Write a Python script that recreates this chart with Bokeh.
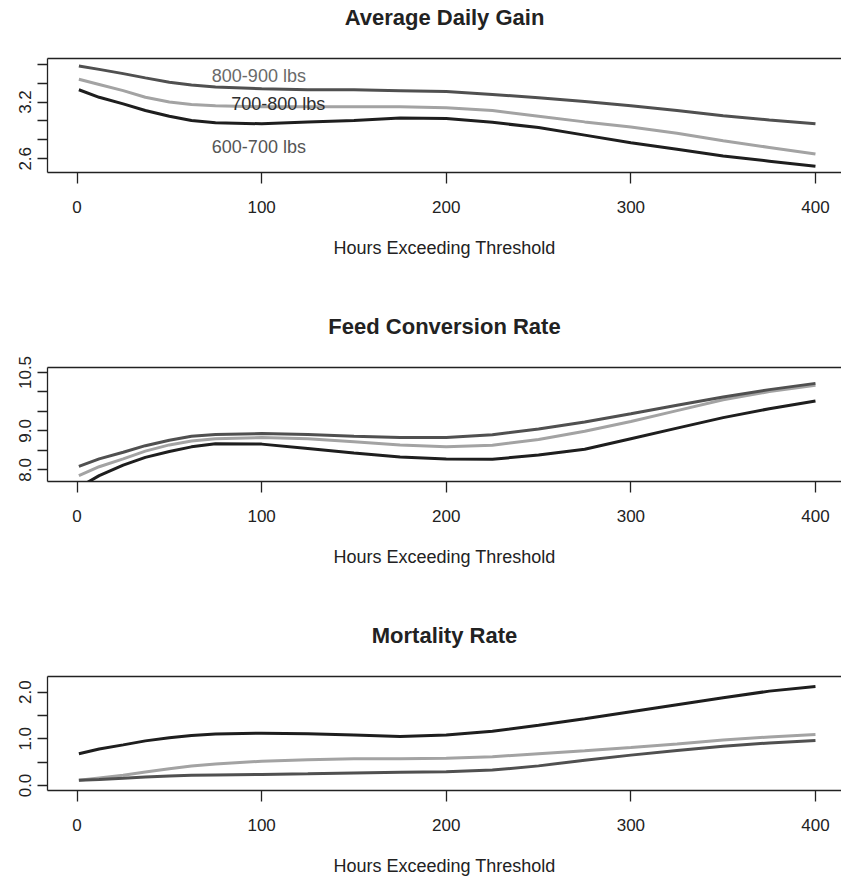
from bokeh.plotting import figure
from bokeh.layouts import column
from bokeh.models import FixedTicker, Range1d, LinearAxis
from bokeh.core.properties import value
from bokeh.embed import file_html
from bokeh.resources import INLINE

# ---------------- data ----------------
hours = [1, 12, 25, 37, 50, 62, 75, 100, 125, 150, 175, 200, 225, 250, 275, 300, 325, 350, 375, 400]

groups = ["600-700 lbs", "700-800 lbs", "800-900 lbs"]

adg_600 = [3.33, 3.25, 3.18, 3.11, 3.05, 3.005, 2.98, 2.97, 2.99, 3.005, 3.03, 3.025, 2.985, 2.93, 2.85, 2.77, 2.70, 2.63, 2.575, 2.52]
adg_700 = [3.44, 3.385, 3.32, 3.25, 3.20, 3.175, 3.16, 3.15, 3.15, 3.15, 3.15, 3.14, 3.11, 3.05, 2.99, 2.935, 2.87, 2.79, 2.72, 2.65]
adg_800 = [3.58, 3.545, 3.50, 3.455, 3.41, 3.38, 3.36, 3.34, 3.33, 3.33, 3.32, 3.31, 3.28, 3.245, 3.205, 3.16, 3.11, 3.055, 3.01, 2.97]

fcr_600 = [7.55, 7.85, 8.12, 8.32, 8.47, 8.59, 8.67, 8.66, 8.55, 8.43, 8.33, 8.28, 8.27, 8.38, 8.53, 8.80, 9.07, 9.34, 9.57, 9.77]
fcr_700 = [7.85, 8.08, 8.28, 8.48, 8.64, 8.74, 8.80, 8.83, 8.80, 8.72, 8.64, 8.59, 8.63, 8.78, 8.99, 9.24, 9.52, 9.80, 10.01, 10.17]
fcr_800 = [8.09, 8.28, 8.45, 8.62, 8.76, 8.86, 8.91, 8.93, 8.91, 8.86, 8.83, 8.83, 8.90, 9.05, 9.23, 9.44, 9.66, 9.87, 10.06, 10.22]

mort_600 = [0.68, 0.78, 0.87, 0.955, 1.02, 1.07, 1.10, 1.12, 1.11, 1.08, 1.05, 1.08, 1.16, 1.29, 1.43, 1.58, 1.73, 1.88, 2.02, 2.12]
mort_700 = [0.11, 0.16, 0.22, 0.29, 0.36, 0.415, 0.46, 0.52, 0.55, 0.57, 0.575, 0.585, 0.615, 0.68, 0.745, 0.815, 0.89, 0.975, 1.04, 1.09]
mort_800 = [0.11, 0.13, 0.155, 0.18, 0.205, 0.218, 0.225, 0.235, 0.25, 0.27, 0.285, 0.295, 0.33, 0.42, 0.54, 0.65, 0.75, 0.84, 0.91, 0.965]

x_ticks = [0, 100, 200, 300, 400]

adg_ticks = [2.6, 2.8, 3.0, 3.2, 3.4, 3.6]
adg_tick_labels = ["2.6", "", "", "3.2", "", ""]
fcr_ticks = [8.0, 8.5, 9.0, 9.5, 10.0, 10.5]
fcr_tick_labels = ["8.0", "", "9.0", "", "", "10.5"]
mort_ticks = [0.0, 0.5, 1.0, 1.5, 2.0]
mort_tick_labels = ["0.0", "", "1.0", "", "2.0"]

titles = ["Average Daily Gain", "Feed Conversion Rate", "Mortality Rate"]
x_title = "Hours Exceeding Threshold"

# in-plot group labels (top panel)
label_text = ["800-900 lbs", "700-800 lbs", "600-700 lbs"]
label_x = [98.5, 109, 98.5]
label_y = [3.48, 3.18, 2.72]
label_colors = ["#6a6a6a", "#2e2e2e", "#555555"]

# ---------------- styling ----------------
FONT = "Liberation Sans"
INK = "#222222"
line_colors = {"600-700 lbs": "#1e1e1e", "700-800 lbs": "#a3a3a3", "800-900 lbs": "#505050"}


def make_panel(title, series, yticks, ylabels, yrange, top_border, bottom_border):
    p = figure(
        frame_width=794, frame_height=114,
        x_range=Range1d(-16, 414.1), y_range=Range1d(*yrange),
        min_border_left=47, min_border_right=0,
        min_border_top=top_border, min_border_bottom=bottom_border,
        output_backend="svg", toolbar_location=None,
        background_fill_color="white", border_fill_color="white",
    )
    p.outline_line_color = None
    p.grid.visible = False

    for name, ys in zip(groups, series):
        p.line(hours, ys, line_color=line_colors[name], line_width=3)

    xa = p.below[0]
    xa.ticker = FixedTicker(ticks=x_ticks)
    xa.minor_tick_line_color = None
    xa.major_tick_in = 0
    xa.major_tick_out = 11
    xa.major_label_standoff = 17
    xa.axis_line_color = INK
    xa.axis_line_width = 1.3
    xa.major_tick_line_color = INK
    xa.major_tick_line_width = 1.3
    xa.major_label_text_font = FONT
    xa.major_label_text_font_size = "17px"
    xa.major_label_text_color = INK
    xa.axis_label = x_title
    xa.axis_label_text_font = FONT
    xa.axis_label_text_font_size = "18px"
    xa.axis_label_text_font_style = "normal"
    xa.axis_label_text_color = INK
    xa.axis_label_standoff = 22

    ya = p.left[0]
    ya.ticker = FixedTicker(ticks=yticks)
    ya.major_label_overrides = {t: l for t, l in zip(yticks, ylabels)}
    ya.minor_tick_line_color = None
    ya.major_tick_in = 0
    ya.major_tick_out = 10
    ya.major_label_standoff = 6
    ya.major_label_orientation = "vertical"
    ya.axis_line_color = INK
    ya.axis_line_width = 1.3
    ya.major_tick_line_color = INK
    ya.major_tick_line_width = 1.3
    ya.major_label_text_font = FONT
    ya.major_label_text_font_size = "17px"
    ya.major_label_text_color = INK

    # top axis: draws the top edge of the box and carries the panel title
    top = LinearAxis(ticker=FixedTicker(ticks=[]))
    top.minor_tick_line_color = None
    top.major_tick_line_color = None
    top.major_tick_in = 0
    top.major_tick_out = 0
    top.major_label_text_font_size = "0px"
    top.axis_line_color = INK
    top.axis_line_width = 1.3
    top.axis_label = title
    top.axis_label_text_font = FONT
    top.axis_label_text_font_size = "22px"
    top.axis_label_text_font_style = "bold"
    top.axis_label_text_color = INK
    top.axis_label_standoff = 29
    p.add_layout(top, "above")
    return p


p1 = make_panel(titles[0], [adg_600, adg_700, adg_800], adg_ticks, adg_tick_labels,
                (2.455, 3.660), 58, 88)
p1.text(x=label_x, y=label_y, text=label_text, text_color=label_colors,
        text_font=value(FONT), text_font_size="18px",
        text_align="center", text_baseline="middle")

p2 = make_panel(titles[1], [fcr_600, fcr_700, fcr_800], fcr_ticks, fcr_tick_labels,
                (7.70, 10.628), 107, 88)
p3 = make_panel(titles[2], [mort_600, mort_700, mort_800], mort_ticks, mort_tick_labels,
                (-0.107, 2.333), 107, 88)

layout = column(p1, p2, p3, spacing=0)

with open("out.html", "w") as f:
    f.write(file_html(layout, INLINE))
